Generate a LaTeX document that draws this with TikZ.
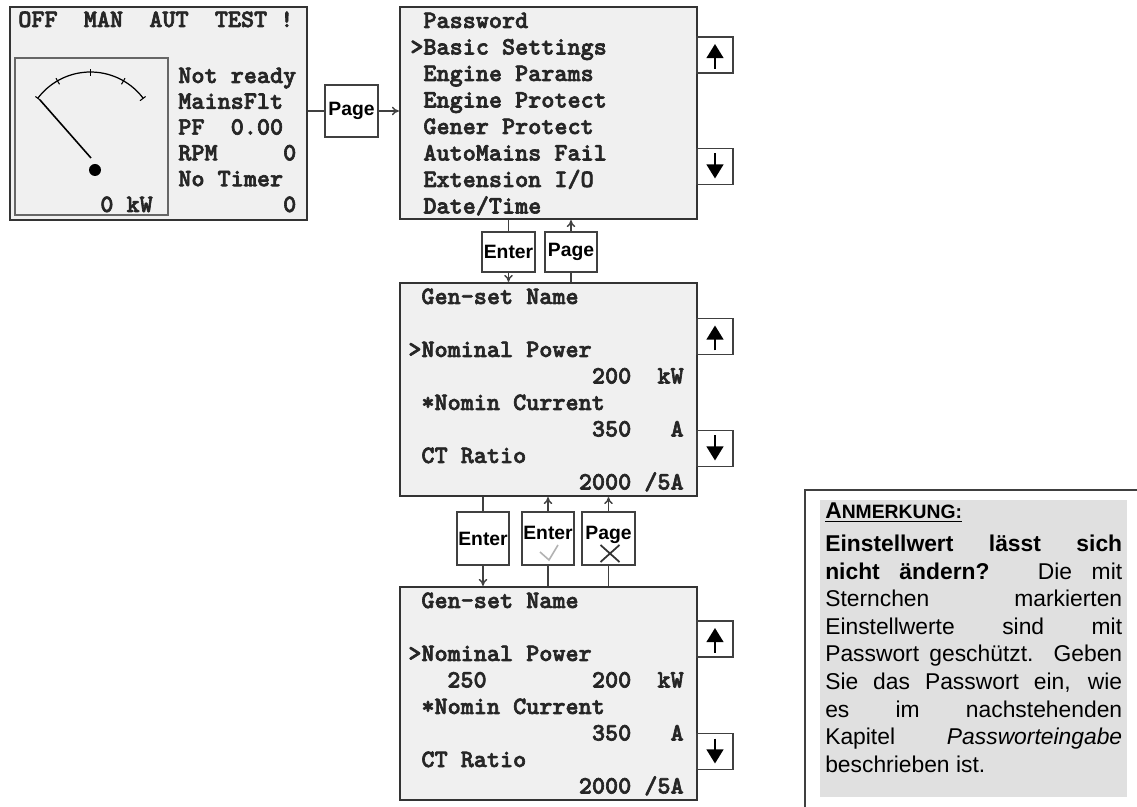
\documentclass[tikz,border=0pt]{standalone}
\usepackage{fontspec}
\setsansfont{Liberation Sans}
\newfontfamily\lcdfont{lmmonolt10-bold}[Extension=.otf,FakeBold=2.5]
\usetikzlibrary{arrows.meta,calc}

\begin{document}
\begin{tikzpicture}[x=0.02cm,y=-0.02cm,>={To[length=4pt,width=5pt]},
 screen/.style={draw=black!80,line width=1.3pt,fill=black!6,inner sep=0pt,minimum width=5.94cm,minimum height=4.26cm},
 key/.style={draw=black!75,line width=0.9pt,fill=white,inner sep=0pt,font=\sffamily\bfseries\fontsize{11}{12}\selectfont},
 scroll/.style={draw=black!75,line width=0.9pt,fill=white,inner sep=0pt,minimum width=0.72cm,minimum height=0.72cm},
 scrollarrow/.style={-{Triangle[length=8pt,width=9.5pt]},line width=1.2pt},
 lcd/.style={font=\fontsize{14.2}{15}\selectfont\lcdfont,inner sep=0pt,text=black!85,anchor=base west},
 lcdr/.style={lcd,anchor=base east},
 link/.style={draw=black!75,line width=0.8pt}]
\useasboundingbox (0,0) rectangle (1137,807);

% the four screens
\node[screen] (status) at (158.5,113.5) {};
\node[screen,minimum height=4.24cm] (menu) at (548.5,113) {};
\node[screen] (setA) at (548.5,389.5) {};
\node[screen] (setB) at (548.5,693.5) {};

% status screen
\node[draw=black!60,line width=0.8pt,inner sep=0pt,minimum width=3.06cm,minimum height=3.14cm] (gauge) at (91.5,136.5) {};
\coordinate (gc) at (90.5,138);
\draw[line width=0.7pt] ($(gc)+(-37:66)$) arc[start angle=-37,end angle=-143,radius=66];
\foreach \a in {37,60,90,120,143}
 \draw[line width=0.6pt] ($(gc)+(-\a:62)$) -- ($(gc)+(-\a:69)$);
\draw[line width=0.9pt] (40,100) -- (91,158);
\fill (95,170) circle[radius=6];
\node[lcd] (power) at (100,212) {0~kW};
\node[lcd] (modes) at (18,27) {OFF~~MAN~~AUT~~TEST~!};
\foreach \t [count=\i from 0] in {Not~ready,MainsFlt,PF~~0.00,RPM~~~~~0,No~Timer,~~~~~~~~0}
 \node[lcd] (st\i) at (178,{83+25.8*\i}) {\t};

% menu screen
\foreach \t [count=\i from 0] in {~Password,>Basic~Settings,~Engine~Params,~Engine~Protect,~Gener~Protect,~AutoMains~Fail,~Extension~I/O,~Date/Time}
 \node[lcd] (mn\i) at (410,{28+26.5*\i}) {\t};

% setting screens
\foreach \s/\y in {setA/304,setB/608} {
 \node[lcd] (\s-name) at (408,\y) {~Gen-set~Name};
 \node[lcd] (\s-pow) at (408,{\y+53}) {>Nominal~Power};
 \node[lcdr] (\s-kw) at (684,{\y+79.5}) {200~~kW};
 \node[lcd] (\s-cur) at (408,{\y+106}) {~*Nomin~Current};
 \node[lcdr] (\s-amp) at (684,{\y+132.5}) {350~~~A};
 \node[lcd] (\s-ct) at (408,{\y+159}) {~CT~Ratio};
 \node[lcdr] (\s-rat) at (684,{\y+185.5}) {2000~/5A};
}
\node[lcd] (newval) at (447,687.5) {250};

% scroll buttons
\node[scroll] (upA) at (715,55) {};
\node[scroll] (dnA) at (715,166.5) {};
\node[scroll] (upB) at (715,336.5) {};
\node[scroll] (dnB) at (715,448.5) {};
\node[scroll] (upC) at (715,639) {};
\node[scroll] (dnC) at (715,751.5) {};
\foreach \u in {upA,upB,upC}
 \draw[scrollarrow] ($(\u)+(0,14)$) -- ($(\u)+(0,-11)$);
\foreach \d in {dnA,dnB,dnC}
 \draw[scrollarrow] ($(\d)+(0,-13)$) -- ($(\d)+(0,12)$);

% keys
\node[key,minimum width=1.06cm,minimum height=1.04cm] (pageA) at (351.5,111) {Page};
\node[key,minimum width=1.06cm,minimum height=0.8cm] (enterB) at (508.5,252) {Enter};
\node[key,minimum width=1.04cm,minimum height=0.8cm] (pageB) at (571,252) {Page};
\node[key,minimum width=1.04cm,minimum height=1.06cm] (enterC) at (483,538.5) {Enter};
\node[key,minimum width=1.04cm,minimum height=1.06cm,text height=8pt,text depth=7.4pt] (okC) at (548,538.5) {Enter};
\node[key,minimum width=1.06cm,minimum height=1.06cm,text height=8pt,text depth=7.4pt] (pageC) at (608.5,538.5) {Page};
\draw[black!30,line width=0.9pt] ($(okC)+(-8,13.5)$) -- ($(okC)+(1,21.5)$) -- ($(okC)+(10,6.5)$);
\draw[black!80,line width=1pt] ($(pageC)+(-8,6.5)$) -- ($(pageC)+(11,23.5)$)
 ($(pageC)+(-8,23.5)$) -- ($(pageC)+(11,6.5)$);

% connectors
\draw[link] (status.east |- pageA) -- (pageA);
\draw[link,->] (pageA) -- (menu.west |- pageA);
\draw[link] (menu.south -| enterB) -- (enterB);
\draw[link,->] (enterB) -- (setA.north -| enterB);
\draw[link] (setA.north -| pageB) -- (pageB);
\draw[link,->] (pageB) -- (menu.south -| pageB);
\draw[link] (setA.south -| enterC) -- (enterC);
\draw[link,->] (enterC) -- (setB.north -| enterC);
\foreach \k in {okC,pageC} {
 \draw[link] (setB.north -| \k) -- (\k);
 \draw[link,->] (\k) -- (setA.south -| \k);
}

% note
\draw[line width=0.8pt,black!75] (805,807) |- (1137,490);
\node[anchor=north west,fill=black!12,inner xsep=2.8pt,inner ysep=1.5pt,text width=169pt,align=justify,
 font=\sffamily\fontsize{13}{15.7}\selectfont] (note) at (820,500)
 {\textbf{\underline{A{\fontsize{11}{12}\selectfont NMERKUNG:}}}\\[3pt]
 \textbf{Einstellwert lässt sich\linebreak nicht ändern?} Die mit\linebreak Sternchen markierten\linebreak
 Einstellwerte sind mit\linebreak Passwort geschützt. Geben\linebreak Sie das Passwort ein, wie\linebreak
 es im nachstehenden\linebreak Kapitel \textit{Passworteingabe}\linebreak beschrieben ist.\rule[-12.5pt]{0pt}{12.5pt}};
\end{tikzpicture}
\end{document}
